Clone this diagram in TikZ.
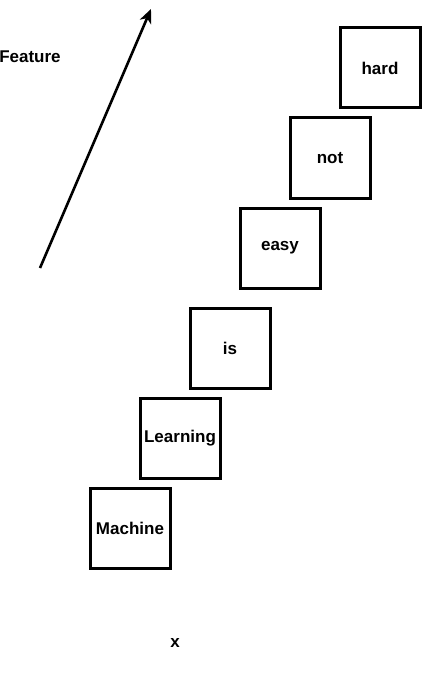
\documentclass[tikz,border=0pt]{standalone}
\usepackage{fontspec}
\setmainfont{Liberation Sans}
\usetikzlibrary{arrows.meta, positioning}

\begin{document}
\begin{tikzpicture}[
    x=1pt, y=-1pt,
    word/.style={rectangle, draw, line width=3pt, minimum width=80pt, minimum height=80pt, inner sep=0pt, font=\fontsize{17}{19}\selectfont\bfseries},
    caption/.style={font=\fontsize{17}{19}\selectfont\bfseries},
    arrow/.style={-{Stealth[length=14pt, width=12pt, inset=4pt]}, line width=2.6pt}
]
    \useasboundingbox (0,0) rectangle (422,679);

    % Word boxes
    \node[word] (hard) at (380,68) {hard};
    \node[word] (not) at (330,158) {not};
    \node[word] (easy) at (280,248) {easy};
    \node[word] (is) at (230,348) {is};
    \node[word] (learning) at (180,438) {Learning};
    \node[word] (machine) at (130,528) {Machine};

    % Axis labels
    \node[caption] (feature) at (30,57) {Feature};
    \node[caption] (xlab) at (175,643) {x};

    % Feature arrow
    \coordinate (tail) at (40,268);
    \coordinate (tip) at (151,9);
    \draw[arrow] (tail) -- (tip);

\end{tikzpicture}
\end{document}
